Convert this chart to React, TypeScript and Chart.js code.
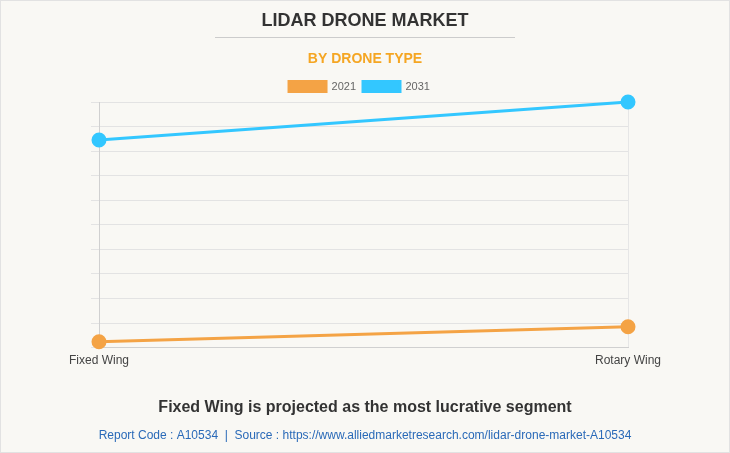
import React, { useEffect, useRef } from "react";
import { Chart, registerables } from "chart.js";

Chart.register(...registerables);

const categories = ["Fixed Wing", "Rotary Wing"];
const series2021 = [0.24, 0.85];
const series2031 = [8.45, 10];
const seriesLabels = ["2021", "2031"];
const yMax = 10;
const yStep = 1;

const title = "LIDAR DRONE MARKET";
const subtitle = "BY DRONE TYPE";
const footerTitle = "Fixed Wing is projected as the most lucrative segment";
const footerSource = "Report Code : A10534  |  Source : https://www.alliedmarketresearch.com/lidar-drone-market-A10534";

const FONT = "'Liberation Sans', Arial, sans-serif";

export default function App() {
  const ref = useRef<HTMLCanvasElement | null>(null);
  useEffect(() => {
    document.body.style.margin = "0";
    const canvas = ref.current!;
    const deco = {
      id: "deco",
      beforeDraw(chart: any) {
        const ctx = chart.ctx;
        ctx.save();
        ctx.fillStyle = "#f9f8f4";
        ctx.fillRect(0, 0, chart.width, chart.height);
        ctx.strokeStyle = "#e2e2e2";
        ctx.lineWidth = 1;
        ctx.strokeRect(0.5, 0.5, chart.width - 1, chart.height - 1);
        ctx.restore();
      },
      afterDraw(chart: any) {
        const ctx = chart.ctx;
        const cx = chart.width / 2;
        ctx.save();
        ctx.textAlign = "center";
        ctx.textBaseline = "middle";
        ctx.fillStyle = "#333333";
        ctx.font = `bold 18px ${FONT}`;
        ctx.fillText(title, cx, 21);
        ctx.strokeStyle = "#cccccc";
        ctx.lineWidth = 1;
        ctx.beginPath();
        ctx.moveTo(215, 37.5);
        ctx.lineTo(515, 37.5);
        ctx.stroke();
        ctx.fillStyle = "#f5a623";
        ctx.font = `bold 14px ${FONT}`;
        ctx.fillText(subtitle, cx, 59);
        ctx.fillStyle = "#333333";
        ctx.font = `bold 16px ${FONT}`;
        ctx.fillText(footerTitle, cx, 408);
        ctx.fillStyle = "#2a6ab8";
        ctx.font = `12px ${FONT}`;
        ctx.fillText(footerSource, cx, 436);
        ctx.restore();
      },
    };
    const chart = new Chart(canvas, {
      type: "line",
      data: {
        labels: categories,
        datasets: [
          {
            label: seriesLabels[0],
            data: series2021,
            borderColor: "#f4a345",
            backgroundColor: "#f4a345",
            pointBackgroundColor: "#f4a345",
            pointBorderColor: "#f4a345",
            borderWidth: 3,
            pointRadius: 6,
            tension: 0,
            clip: false,
          },
          {
            label: seriesLabels[1],
            data: series2031,
            borderColor: "#33c7ff",
            backgroundColor: "#33c7ff",
            pointBackgroundColor: "#33c7ff",
            pointBorderColor: "#33c7ff",
            borderWidth: 3,
            pointRadius: 6,
            tension: 0,
            clip: false,
          },
        ],
      },
      options: {
        responsive: false,
        animation: false,
        layout: { padding: { top: 74, left: 91, right: 102, bottom: 79 } },
        plugins: {
          title: { display: false },
          tooltip: { enabled: false },
          legend: {
            display: true,
            position: "top",
            labels: {
              boxWidth: 37,
              boxHeight: 10,
              padding: 7,
              color: "#666666",
              font: { family: FONT, size: 11 },
            },
          },
        },
        scales: {
          x: {
            offset: false,
            grid: { color: "#e6e6e6", drawTicks: false },
            border: { color: "#d0d0d0" },
            ticks: { color: "#444444", font: { family: FONT, size: 12 }, padding: 6 },
          },
          y: {
            min: 0,
            max: yMax,
            grid: { color: "#e3e3e3", tickLength: 8 },
            border: { color: "#d0d0d0" },
            ticks: { display: false, stepSize: yStep },
          },
        },
      },
      plugins: [deco],
    });
    return () => chart.destroy();
  }, []);
  return <canvas ref={ref} width={730} height={453} style={{ display: "block" }} />;
}
